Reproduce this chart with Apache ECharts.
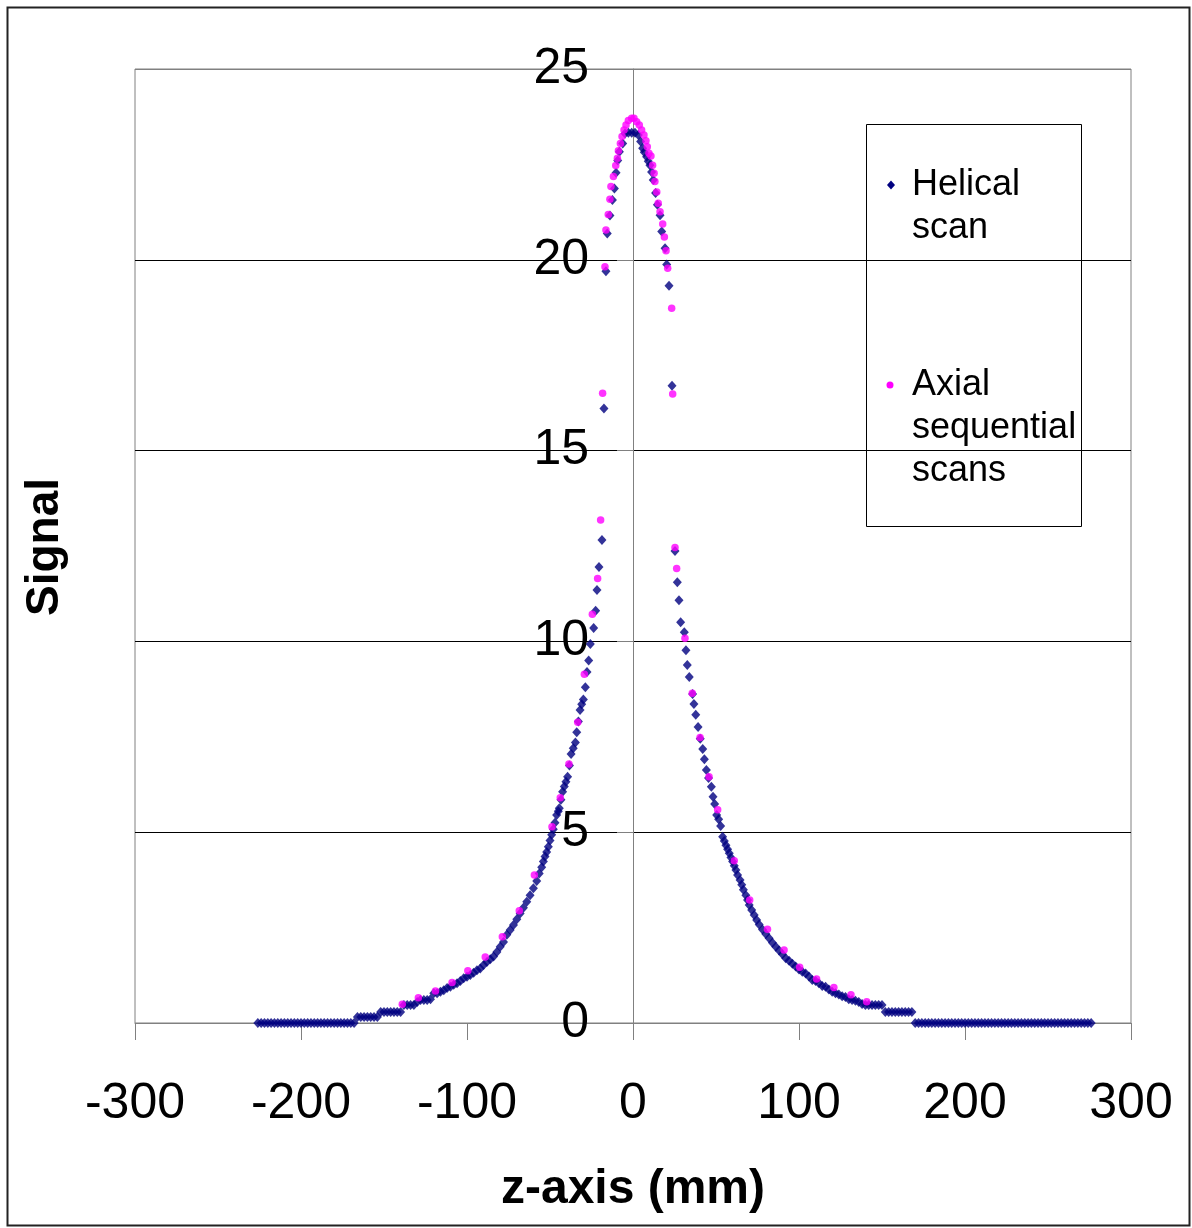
<!DOCTYPE html>
<html>
<head>
<meta charset="utf-8">
<script src="https://cdn.jsdelivr.net/npm/echarts@6/dist/echarts.min.js"></script>
<style>
  html, body { margin: 0; padding: 0; background: #fff; }
  #chart { width: 1192px; height: 1228px; }
</style>
</head>
<body>
<div id="chart"></div>
<script>
//----------------------Data----------------------
// z position (mm), signal
let helical_left_tail = [
    [-226, 0], [-224, 0], [-222, 0], [-220, 0], [-218, 0], [-216, 0], [-214, 0], [-212, 0],
    [-210, 0], [-208, 0], [-206, 0], [-204, 0], [-202, 0], [-200, 0], [-198, 0], [-196, 0],
    [-194, 0], [-192, 0], [-190, 0], [-188, 0], [-186, 0], [-184, 0], [-182, 0], [-180, 0],
    [-178, 0], [-176, 0], [-174, 0], [-172, 0], [-170, 0], [-168, 0],
    [-166, 0.16], [-164, 0.16], [-162, 0.16], [-160, 0.16], [-158, 0.16], [-156, 0.16], [-154, 0.16],
    [-152, 0.29], [-150, 0.29], [-148, 0.29], [-146, 0.29], [-144, 0.29], [-142, 0.29], [-140, 0.29],
    [-138, 0.47], [-136, 0.47], [-134, 0.47], [-132, 0.47], [-130, 0.55],
    [-128, 0.6], [-126, 0.6], [-124, 0.6], [-122, 0.62], [-120, 0.78], [-118, 0.78], [-116, 0.82],
    [-114, 0.86], [-112, 0.92], [-110, 0.95], [-108, 1.0], [-106, 1.04], [-104, 1.1], [-102, 1.17],
    [-100, 1.21], [-98, 1.26], [-96, 1.32], [-94, 1.38], [-92, 1.43], [-90, 1.52], [-88, 1.6],
    [-86, 1.67], [-84, 1.74], [-82, 1.86], [-80, 2.0], [-78, 2.12], [-76, 2.31], [-74, 2.44],
    [-72, 2.57], [-70, 2.72], [-68, 2.87], [-66, 3.02], [-64, 3.18], [-62, 3.35], [-60, 3.53],
    [-58, 3.72], [-56.5, 3.92], [-55, 4.08], [-54, 4.23], [-53, 4.36], [-52, 4.48], [-51, 4.62],
    [-50, 4.78], [-49, 4.93], [-48, 5.08], [-47, 5.25], [-46, 5.45], [-45, 5.55], [-44.4, 5.63],
    [-43.4, 5.85], [-42.4, 6.06], [-41.4, 6.2], [-40.4, 6.32], [-39.4, 6.45], [-38.3, 6.75],
    [-37.3, 7.05], [-36, 7.2], [-34.7, 7.35], [-33.9, 7.62], [-32.9, 7.9], [-31.9, 8.2],
    [-30.9, 8.35], [-29.9, 8.48], [-28.7, 8.8], [-27.7, 9.2], [-26.7, 9.5], [-25.7, 9.93],
    [-23.7, 10.35], [-22.5, 10.8], [-21.7, 11.35], [-20.5, 11.95], [-18.7, 12.66]
];
let helical_peak = [
    [-17.5, 16.1], [-16.3, 19.7], [-15.5, 20.69], [-13.9, 21.16], [-12.4, 21.57], [-11.2, 21.87],
    [-10.2, 22.28], [-9.2, 22.6], [-8.2, 22.83], [-6.2, 23.05], [-4.8, 23.31], [-2.8, 23.33],
    [-0.8, 23.33], [1.2, 23.33], [3.2, 23.27], [4.6, 23.1], [5.8, 22.92], [6.8, 22.82],
    [8.2, 22.7], [9.2, 22.58], [10.2, 22.48], [11.2, 22.3], [12.2, 22.09], [13.6, 21.75],
    [14.7, 21.44], [16.3, 21.17], [17.3, 20.74], [19.3, 20.3], [20.3, 19.88], [21.7, 19.32],
    [23.5, 16.7]
];
let helical_right_tail = [
    [25.3, 12.37], [26.7, 11.55], [27.7, 11.08], [28.7, 10.5], [30.9, 10.24], [31.9, 9.77],
    [32.7, 9.38], [33.9, 9.07], [35.9, 8.62], [36.7, 8.36], [37.8, 8.08], [39.2, 7.76],
    [40.5, 7.45], [42, 7.18], [43, 6.91], [44.2, 6.63], [45.5, 6.42], [47.2, 6.19], [48.2, 5.93],
    [49.2, 5.74], [50.4, 5.45], [51.6, 5.34], [52.8, 5.16], [54, 4.88], [55, 4.77], [56, 4.66],
    [57, 4.55], [58, 4.45], [59, 4.34], [60, 4.23], [61, 4.12], [62, 4.01], [63, 3.88],
    [64.5, 3.75], [65.5, 3.62], [66.5, 3.49], [68, 3.35], [69, 3.22], [70, 3.09], [71.5, 2.96],
    [73, 2.83], [74.5, 2.7], [76, 2.58], [78, 2.45], [80, 2.33], [82, 2.22], [84, 2.1], [86, 2.0],
    [88, 1.9], [90, 1.8], [92, 1.7], [94, 1.63], [96, 1.55], [98, 1.48], [100, 1.4], [102, 1.34],
    [104, 1.3], [106, 1.22], [108, 1.13], [110, 1.1], [112, 1.04], [114, 0.97], [116, 0.95],
    [118, 0.88], [120, 0.82], [122, 0.78], [124, 0.75], [126, 0.7], [128, 0.68], [130, 0.62],
    [132, 0.6], [134, 0.58], [136, 0.55], [138, 0.5], [140, 0.47], [142, 0.47], [144, 0.47],
    [146, 0.47], [148, 0.47], [150, 0.47],
    [152, 0.29], [154, 0.29], [156, 0.29], [158, 0.29], [160, 0.29], [162, 0.29], [164, 0.29],
    [166, 0.29], [168, 0.29],
    [170, 0], [172, 0], [174, 0], [176, 0], [178, 0], [180, 0], [182, 0], [184, 0], [186, 0],
    [188, 0], [190, 0], [192, 0], [194, 0], [196, 0], [198, 0], [200, 0], [202, 0], [204, 0],
    [206, 0], [208, 0], [210, 0], [212, 0], [214, 0], [216, 0], [218, 0], [220, 0], [222, 0],
    [224, 0], [226, 0], [228, 0], [230, 0], [232, 0], [234, 0], [236, 0], [238, 0], [240, 0],
    [242, 0], [244, 0], [246, 0], [248, 0], [250, 0], [252, 0], [254, 0], [256, 0], [258, 0],
    [260, 0], [262, 0], [264, 0], [266, 0], [268, 0], [270, 0], [272, 0], [274, 0], [276, 0]
];
let axial_scans = [
    [-139, 0.49], [-129.3, 0.66], [-119, 0.84], [-109, 1.06], [-99.5, 1.37], [-89, 1.73],
    [-78.7, 2.26], [-68.5, 2.94], [-59.4, 3.88], [-48.8, 5.14], [-43.8, 5.9], [-38.6, 6.79],
    [-33.3, 7.88], [-29.3, 9.14], [-24.5, 10.71], [-21.3, 11.65], [-19.5, 13.18], [-18.3, 16.5],
    [-16.9, 19.82], [-16.3, 20.78], [-14.9, 21.19], [-13.9, 21.59], [-13.3, 21.92], [-11.8, 22.18],
    [-10.4, 22.47], [-9.4, 22.66], [-8.8, 22.86], [-7.6, 23.05], [-6.6, 23.23], [-5.4, 23.4],
    [-4.2, 23.53], [-2.8, 23.65], [-0.8, 23.71], [0.6, 23.71], [2.2, 23.62], [3.8, 23.53],
    [5.2, 23.4], [6.6, 23.27], [7.8, 23.12], [8.6, 22.96], [9.6, 22.79], [10.8, 22.72],
    [11.8, 22.48], [12.7, 22.27], [13.2, 22.05], [14.3, 21.78], [15.2, 21.48], [16.3, 21.26],
    [17.9, 20.94], [18.9, 20.6], [19.9, 20.24], [20.9, 19.78], [23.3, 18.73], [23.9, 16.48],
    [25.3, 12.46], [26.3, 11.91], [31.3, 10.08], [35.7, 8.64], [40.4, 7.48], [45.8, 6.45],
    [51, 5.59], [61, 4.25], [70.3, 3.22], [81, 2.46], [91, 1.91], [100.4, 1.46], [110.6, 1.15],
    [121, 0.93], [131.3, 0.74], [140.8, 0.56]
];
let x_ticks = [-300, 300, 100];   // min, max, interval
let y_ticks = [0, 25, 5];
let legend_names = ["Helical\nscan", "Axial\nsequential\nscans"];
let helical_color = "#000080";
let axial_color = "#FF00FF";
let font_family = "'Liberation Sans', Arial, sans-serif";

//--------------------Location--------------------
let grid_left = 135;
let grid_right = 61;
let grid_top = 69;
let grid_bottom = 205;
// y axis sits on z = 0, i.e. halfway across the plot area
let y_axis_offset = -(1192 - grid_left - grid_right) / 2;

//--------------------Chart--------------------
let signal_chart = echarts.init(document.getElementById("chart"), null, {renderer: "canvas"});

let signal_chart_grid = {
    left: grid_left,
    right: grid_right,
    top: grid_top,
    bottom: grid_bottom,
    outerBoundsMode: "none",
    containLabel: false,
    show: true,
    borderColor: "#808080",
    borderWidth: 1,
    backgroundColor: "#fff"
};

let signal_chart_xAxis = {
    type: "value",
    min: x_ticks[0],
    max: x_ticks[1],
    interval: x_ticks[2],
    name: "z-axis (mm)",
    nameLocation: "middle",
    nameGap: 143,
    nameTextStyle: {fontSize: 48, fontWeight: "bold", color: "#000", fontFamily: font_family},
    axisLine: {show: true, onZero: false, lineStyle: {color: "#808080", width: 1}},
    axisTick: {show: true, length: 17, lineStyle: {color: "#808080"}},
    axisLabel: {color: "#000", fontSize: 50, fontFamily: font_family, margin: 56},
    splitLine: {show: false}
};

let signal_chart_yAxis = {
    type: "value",
    position: "left",
    offset: y_axis_offset,
    min: y_ticks[0],
    max: y_ticks[1],
    interval: y_ticks[2],
    axisLine: {show: true, onZero: false, lineStyle: {color: "#808080", width: 1}},
    axisTick: {show: true, length: 16, lineStyle: {color: "#808080"}},
    axisLabel: {color: "#000", fontSize: 50, fontFamily: font_family, margin: 44},
    splitLine: {
        show: true,
        lineStyle: {color: ["#808080", "#000", "#000", "#000", "#000", "#808080"], width: 1}
    }
};

let signal_chart_series = [
    {
        name: legend_names[0],
        type: "scatter",
        symbol: "diamond",
        symbolSize: [9, 10],
        itemStyle: {color: helical_color},
        data: helical_left_tail.concat(helical_peak, helical_right_tail),
        z: 2
    },
    {
        name: legend_names[1],
        type: "scatter",
        symbol: "circle",
        symbolSize: 7.5,
        itemStyle: {color: axial_color},
        data: axial_scans,
        z: 3
    }
];

//---------------------Graphic (frame, y name, legend)---------------------
let signal_chart_graphic = [
    {
        type: "rect",
        shape: {x: 7.5, y: 7.5, width: 1182, height: 1218},
        style: {fill: null, stroke: "#222", lineWidth: 2},
        silent: true
    },
    {
        type: "text",
        x: 45, y: 547,
        rotation: Math.PI / 2,
        style: {
            text: "Signal",
            font: "bold 46px " + font_family,
            fill: "#000",
            align: "center",
            verticalAlign: "middle"
        }
    },
    {
        type: "group",
        children: [
            {
                type: "rect",
                shape: {x: 866.5, y: 124.5, width: 215, height: 402},
                style: {fill: "#fff", stroke: "#000", lineWidth: 1}
            },
            {
                type: "polygon",
                shape: {points: [[891, 180.5], [895, 185], [891, 189.5], [887, 185]]},
                style: {fill: helical_color}
            },
            {
                type: "text",
                x: 912, y: 164,
                style: {
                    text: legend_names[0],
                    font: "36px " + font_family,
                    lineHeight: 43,
                    fill: "#000",
                    verticalAlign: "top"
                }
            },
            {
                type: "circle",
                shape: {cx: 890, cy: 385, r: 3.5},
                style: {fill: axial_color}
            },
            {
                type: "text",
                x: 912, y: 363.5,
                style: {
                    text: legend_names[1],
                    font: "36px " + font_family,
                    lineHeight: 43,
                    fill: "#000",
                    verticalAlign: "top"
                }
            }
        ]
    }
];

//------------------Generate Graph------------------
let signal_chart_option = {
    backgroundColor: "#fff",
    animation: false,
    grid: signal_chart_grid,
    xAxis: signal_chart_xAxis,
    yAxis: signal_chart_yAxis,
    series: signal_chart_series,
    graphic: signal_chart_graphic
};
signal_chart.setOption(signal_chart_option, true);
</script>
</body>
</html>
